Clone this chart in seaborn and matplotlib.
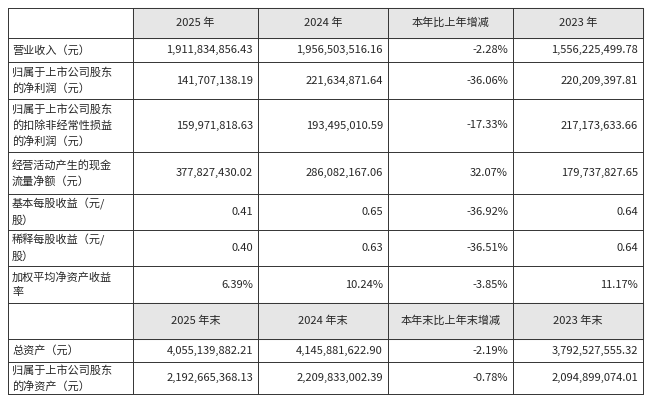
import matplotlib
matplotlib.use("Agg")
import matplotlib.pyplot as plt
import seaborn as sns

sns.set_style("white")
plt.rcParams['font.family'] = ['Noto Sans CJK SC', 'DejaVu Sans']

header1 = ["", "2025 年", "2024 年", "本年比上年增减", "2023 年"]
header2 = ["", "2025 年末", "2024 年末", "本年末比上年末增减", "2023 年末"]
labels1 = ["营业收入（元）", "归属于上市公司股东\n的净利润（元）", "归属于上市公司股东\n的扣除非经常性损益\n的净利润（元）",
           "经营活动产生的现金\n流量净额（元）", "基本每股收益（元/\n股）", "稀释每股收益（元/\n股）", "加权平均净资产收益\n率"]
v2025 = ["1,911,834,856.43", "141,707,138.19", "159,971,818.63", "377,827,430.02", "0.41", "0.40", "6.39%"]
v2024 = ["1,956,503,516.16", "221,634,871.64", "193,495,010.59", "286,082,167.06", "0.65", "0.63", "10.24%"]
vchg = ["-2.28%", "-36.06%", "-17.33%", "32.07%", "-36.92%", "-36.51%", "-3.85%"]
v2023 = ["1,556,225,499.78", "220,209,397.81", "217,173,633.66", "179,737,827.65", "0.64", "0.64", "11.17%"]
labels2 = ["总资产（元）", "归属于上市公司股东\n的净资产（元）"]
w2025 = ["4,055,139,882.21", "2,192,665,368.13"]
w2024 = ["4,145,881,622.90", "2,209,833,002.39"]
wchg = ["-2.19%", "-0.78%"]
w2023 = ["3,792,527,555.32", "2,094,899,074.01"]

xs = [8, 133, 258, 388, 513, 643]
ys = [8, 38, 62, 99, 152, 194, 230, 266, 303, 339, 362, 394]

fig = plt.figure(figsize=(6.5, 4.01), dpi=100)
ax = fig.add_axes([0, 0, 1, 1])
ax.set_xlim(0, 650); ax.set_ylim(401, 0); ax.axis("off")

rows = [("h", header1)]
for i in range(len(labels1)):
    rows.append(("d", [labels1[i], v2025[i], v2024[i], vchg[i], v2023[i]]))
rows.append(("h", header2))
for i in range(len(labels2)):
    rows.append(("d", [labels2[i], w2025[i], w2024[i], wchg[i], w2023[i]]))

fs = 8
for r, (kind, cells) in enumerate(rows):
    y0, y1 = ys[r], ys[r + 1]
    yc = (y0 + y1) / 2
    if kind == "h":
        ax.add_patch(plt.Rectangle((xs[1], y0), xs[-1] - xs[1], y1 - y0, color="#e6e6e6", zorder=0))
    for c, t in enumerate(cells):
        if not t:
            continue
        if kind == "h":
            ax.text((xs[c] + xs[c + 1]) / 2, yc, t, ha="center", va="center", fontsize=fs)
        elif c == 0:
            ax.text(xs[0] + 4, yc, t, ha="left", va="center", fontsize=fs, linespacing=1.6)
        else:
            ax.text(xs[c + 1] - 5, yc, t, ha="right", va="center", fontsize=fs)

for y in ys:
    ax.plot([xs[0], xs[-1]], [y, y], color="#333333", lw=0.7)
for x in xs:
    ax.plot([x, x], [ys[0], ys[-1]], color="#333333", lw=0.7)

fig.savefig("out.png", dpi=100)
